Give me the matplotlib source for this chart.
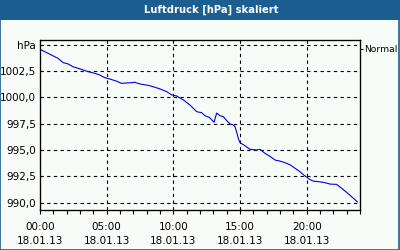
import matplotlib
matplotlib.use("Agg")
import matplotlib.pyplot as plt
import matplotlib.patches as mpatches
from matplotlib.ticker import FixedLocator, MultipleLocator

# === DATA ===
hours = [0.0, 0.6, 1.35, 1.73, 2.1, 2.48, 2.85, 3.23, 3.6, 4.1, 4.48, 4.85,
         5.23, 5.72, 6.1, 6.88, 7.1, 7.5, 8.25, 9.0, 9.5, 9.88, 10.25, 10.75,
         11.25, 11.75, 12.13, 12.38, 12.7, 13.05, 13.25, 13.5, 13.75, 14.0,
         14.25, 14.5, 14.63, 14.75, 14.87, 15.0, 15.38, 15.75, 16.25, 16.5,
         16.88, 17.25, 17.63, 18.0, 18.38, 18.75, 19.13, 19.5, 19.88, 20.25,
         20.5, 21.0, 21.38, 21.75, 22.25, 22.63, 23.0, 23.38, 23.8]
pressure = [1004.56, 1004.18, 1003.7, 1003.3, 1003.17, 1002.9, 1002.76, 1002.6,
            1002.44, 1002.28, 1002.12, 1001.87, 1001.74, 1001.55, 1001.33,
            1001.39, 1001.43, 1001.27, 1001.1, 1000.8, 1000.54, 1000.23,
            1000.13, 999.75, 999.27, 998.64, 998.54, 998.25, 998.1, 997.63,
            998.5, 998.26, 998.17, 997.8, 997.47, 997.38, 997.2, 996.7, 996.1,
            995.7, 995.4, 995.07, 995.0, 995.07, 994.68, 994.4, 994.05, 993.95,
            993.8, 993.6, 993.27, 992.94, 992.53, 992.2, 992.05, 991.98, 991.9,
            991.77, 991.74, 991.36, 990.98, 990.56, 990.09]

y_ticks = [990.0, 992.5, 995.0, 997.5, 1000.0, 1002.5, 1005.0]
y_labels = ["990,0", "992,5", "995,0", "997,5", "1000,0", "1002,5", "hPa"]
x_ticks = [0, 5, 10, 15, 20]
x_labels = ["00:00\n18.01.13", "05:00\n18.01.13", "10:00\n18.01.13",
            "15:00\n18.01.13", "20:00\n18.01.13"]
title = "Luftdruck [hPa] skaliert"

# === STYLE ===
BG = "#f8fcf8"
FRAME_BLUE = "#1c5e92"
LINE_BLUE = "#0000e0"
FS = 7.5

fig = plt.figure(figsize=(4, 2.5), dpi=100, facecolor=BG)

# title bar and outer frame
fig.patches.append(mpatches.Rectangle((0, 0.92), 1, 0.08, transform=fig.transFigure,
                                      facecolor=FRAME_BLUE, edgecolor="none", zorder=0))
fig.patches.append(mpatches.Rectangle((0.001, 0.002), 0.997, 0.996, transform=fig.transFigure,
                                      facecolor="none", edgecolor=FRAME_BLUE, lw=1.2, zorder=1))
fig.text(0.527, 0.96, title, color="white", fontsize=7.2, fontweight="bold",
         ha="center", va="center")

ax = fig.add_axes([0.1, 0.16, 0.8, 0.68])
ax.set_facecolor(BG)
ax.plot(hours, pressure, color=LINE_BLUE, lw=0.8)

ax.set_xlim(0, 24)
ax.set_ylim(989.31, 1005.44)

ax.set_yticks(y_ticks)
ax.set_yticklabels(y_labels, fontsize=FS)
ax.tick_params(axis="y", length=0, pad=3)

ax.xaxis.set_major_locator(FixedLocator(x_ticks))
ax.set_xticklabels(x_labels, fontsize=FS, linespacing=1.45)
ax.xaxis.set_minor_locator(MultipleLocator(1))
ax.tick_params(axis="x", which="both", length=3, width=0.8, direction="out", pad=6)

# dashed grid
for yv in y_ticks:
    ax.axhline(yv, color="black", lw=0.8, ls=(0, (3, 3)), zorder=1)
for xv in x_ticks[1:]:
    ax.axvline(xv, color="black", lw=0.8, ls=(0, (3, 3)), zorder=1)

for s in ax.spines.values():
    s.set_linewidth(0.9)

# right-hand label
ax2 = ax.twinx()
ax2.set_ylim(ax.get_ylim())
ax2.set_yticks([1004.6])
ax2.set_yticklabels(["Normal"], fontsize=6.6)
ax2.tick_params(axis="y", length=2, width=0.8, pad=1)

fig.savefig("out.png", dpi=100, facecolor=BG)
